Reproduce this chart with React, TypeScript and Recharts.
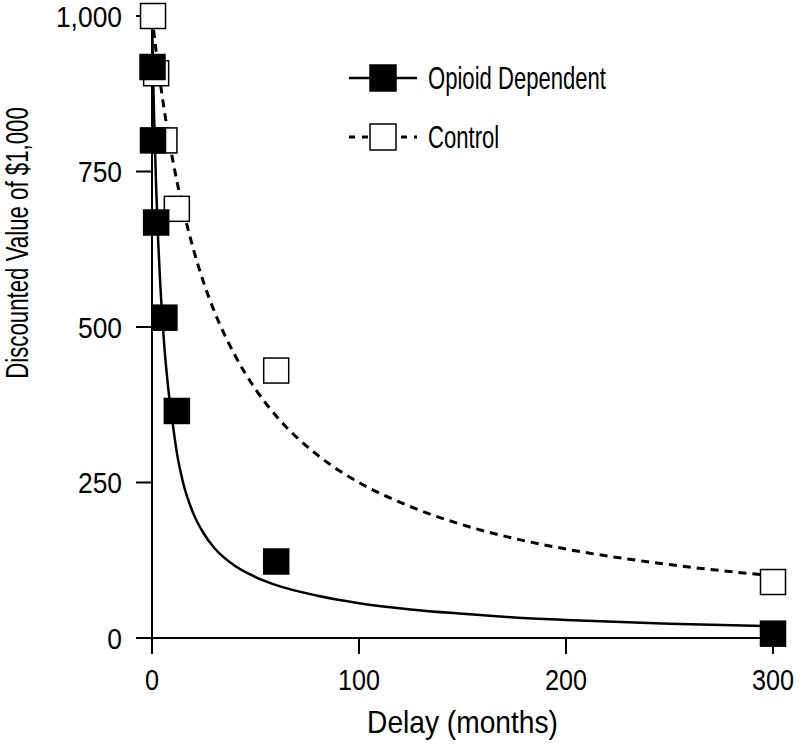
import { ComposedChart, Line, Scatter, XAxis, YAxis, Label } from 'recharts';

// observed points (delay in months, discounted value)
const opioidDelay = [0.25, 0.5, 2, 6, 12, 60, 300];
const opioidValue = [918, 800, 668, 515, 365, 123, 7];
const controlDelay = [0.5, 2, 6, 12, 60, 300];
const controlValue = [1000, 908, 800, 690, 430, 90];

// fitted curves
const fitDelay = [0, 0.5, 1, 2, 3, 4, 6, 8, 10, 12, 15, 20, 25, 30, 40, 50, 60, 80, 100, 125, 150, 175, 200, 250, 300];
const opioidFit = [1000, 913, 840, 725, 637, 568, 467, 397, 345, 298, 250, 200, 168, 145, 116, 98, 85, 68, 56, 46, 39, 33, 29, 23, 19];
const controlFit = [1000, 985, 971, 943, 917, 893, 847, 806, 769, 735, 690, 625, 571, 526, 455, 400, 357, 294, 250, 211, 182, 160, 143, 118, 100];

const seriesNames = ['Opioid Dependent', 'Control'];
const xTicks = [0, 100, 200, 300];
const yTicks = [0, 250, 500, 750, 1000];

const toPoints = (xs: number[], ys: number[]) => xs.map((x, i) => ({ x, y: ys[i] }));

const opioidPoints = toPoints(opioidDelay, opioidValue);
const controlPoints = toPoints(controlDelay, controlValue);
const opioidCurve = toPoints(fitDelay, opioidFit);
const controlCurve = toPoints(fitDelay, controlFit);

const FONT = '"Liberation Sans", Arial, sans-serif';

// condensed look: squeeze a normal sans horizontally
const Cond = ({ x, y, sx, size = 30, anchor = 'start', dy, rotate, children }: any) => (
  <g transform={`translate(${x},${y})${rotate ? ` rotate(${rotate})` : ''}`}>
    <text transform={`scale(${sx},1)`} textAnchor={anchor} dy={dy} fontFamily={FONT} fontSize={size} fill="#000">
      {children}
    </text>
  </g>
);

const square = (fill: string) => (props: any) => (
  <rect
    x={props.cx - 12.5}
    y={props.cy - 12.5}
    width={25}
    height={25}
    fill={fill}
    stroke="#000"
    strokeWidth={1.5}
  />
);

const XTick = (props: any) => (
  <Cond x={props.x} y={props.y} sx={0.84} anchor="middle" dy="0.71em">
    {props.payload.value}
  </Cond>
);

const YTick = (props: any) => (
  <Cond x={props.x} y={props.y} sx={0.88} anchor="end" dy="0.36em">
    {props.payload.value.toLocaleString('en-US')}
  </Cond>
);

const YLabel = (props: any) => {
  const { viewBox } = props;
  return (
    <Cond x={viewBox.x + 28} y={viewBox.y + viewBox.height / 2 - 84} sx={0.695} size={32} anchor="middle" rotate={-90}>
      Discounted Value of $1,000
    </Cond>
  );
};

const XLabel = (props: any) => {
  const { viewBox } = props;
  return (
    <Cond x={viewBox.x + viewBox.width / 2} y={viewBox.y + 95} sx={0.88} size={32} anchor="middle">
      Delay (months)
    </Cond>
  );
};

const LegendBox = () => (
  <svg width={800} height={749} style={{ position: 'absolute', left: 0, top: 0, pointerEvents: 'none' }}>
    {seriesNames.map((name, i) => {
      const cy = 78 + i * 59;
      return (
        <g key={name}>
          <line
            x1={349}
            x2={417}
            y1={cy}
            y2={cy}
            stroke="#000"
            strokeWidth={i === 0 ? 2.5 : 3}
            strokeDasharray={i === 0 ? undefined : '6 7'}
          />
          <rect x={370} y={cy - 13} width={26} height={26} fill={i === 0 ? '#000' : '#fff'} stroke="#000" strokeWidth={1.5} />
          <Cond x={428} y={cy + 11} sx={0.69} size={32}>
            {name}
          </Cond>
        </g>
      );
    })}
  </svg>
);

export default function App() {
  return (
    <div style={{ position: 'absolute', left: 0, top: 0, width: 800, height: 749, background: '#fff' }}>
      <ComposedChart width={800} height={749} margin={{ top: 16, right: 27, bottom: 11, left: 0 }}>
        <XAxis
          type="number"
          dataKey="x"
          domain={[0, 300]}
          ticks={xTicks}
          height={100}
          tickSize={16}
          tickMargin={15}
          axisLine={{ stroke: '#000', strokeWidth: 2 }}
          tickLine={{ stroke: '#000', strokeWidth: 2 }}
          tick={XTick}
        >
          <Label content={XLabel} />
        </XAxis>
        <YAxis
          type="number"
          dataKey="y"
          domain={[0, 1000]}
          ticks={yTicks}
          width={152}
          tickSize={16}
          tickMargin={14}
          axisLine={{ stroke: '#000', strokeWidth: 2 }}
          tickLine={{ stroke: '#000', strokeWidth: 2 }}
          tick={YTick}
        >
          <Label content={YLabel} />
        </YAxis>
        <Line
          data={controlCurve}
          dataKey="y"
          type="monotone"
          stroke="#000"
          strokeWidth={3}
          strokeDasharray="8 6"
          dot={false}
          activeDot={false}
          isAnimationActive={false}
        />
        <Line
          data={opioidCurve}
          dataKey="y"
          type="monotone"
          stroke="#000"
          strokeWidth={2.5}
          dot={false}
          activeDot={false}
          isAnimationActive={false}
        />
        <Scatter data={controlPoints} dataKey="y" shape={square('#fff')} isAnimationActive={false} />
        <Scatter data={opioidPoints} dataKey="y" shape={square('#000')} isAnimationActive={false} />
      </ComposedChart>
      <LegendBox />
    </div>
  );
}
